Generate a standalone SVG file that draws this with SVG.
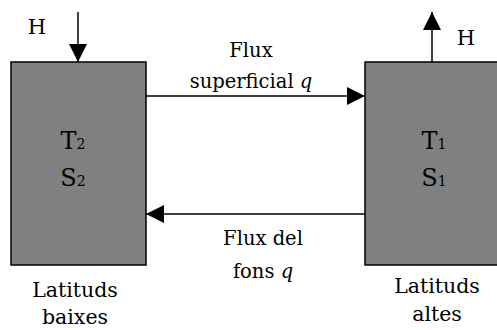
<svg xmlns="http://www.w3.org/2000/svg" width="497" height="330" viewBox="0 0 497 330">
<defs>
<marker id="ah" viewBox="0 0 10 10" refX="10" refY="5" markerWidth="18" markerHeight="18" markerUnits="userSpaceOnUse" orient="auto">
<path d="M0,0 L10,5 L0,10 z" fill="#000"/>
</marker>
<style>
.box{fill:#808080;stroke:#000;stroke-width:1.5}
text{font-family:'DejaVu Serif','Liberation Serif',serif;font-size:19.5px;fill:#000;text-anchor:middle}
.big{font-size:24px}
.sub{font-size:14px}
.lat{font-size:20.5px}
.h{font-size:21px}
.ln{stroke:#000;stroke-width:1.5;fill:none;marker-end:url(#ah)}
</style>
</defs>
<rect width="497" height="330" fill="#fff"/>
<g id="left-box">
<rect class="box" x="11" y="62" width="135" height="203"/>
<text class="big" x="73" y="149">T<tspan class="sub">2</tspan></text>
<text class="big" x="73" y="186">S<tspan class="sub">2</tspan></text>
</g>
<g id="right-box">
<rect class="box" x="365" y="62" width="140" height="203"/>
<text class="big" x="434" y="149">T<tspan class="sub">1</tspan></text>
<text class="big" x="434" y="186">S<tspan class="sub">1</tspan></text>
</g>
<g id="left-label">
<text class="lat" x="75" y="297">Latituds</text>
<text class="lat" x="75" y="324">baixes</text>
</g>
<g id="right-label">
<text class="lat" x="437" y="293">Latituds</text>
<text class="lat" x="437" y="321">altes</text>
</g>
<g id="heat-in">
<text class="h" x="37" y="34">H</text>
</g>
<g id="heat-out">
<text class="h" x="466" y="45">H</text>
</g>
<g id="connectors">
<line class="ln" x1="78" y1="12" x2="78" y2="62"/>
<line class="ln" x1="432" y1="62" x2="432" y2="12"/>
<line class="ln" x1="146" y1="96" x2="365" y2="96"/>
<line class="ln" x1="365" y1="214" x2="146" y2="214"/>
</g>
<g id="flux-labels">
<text x="251" y="57">Flux</text>
<text x="251" y="88">superficial <tspan font-style="italic">q</tspan></text>
<text x="263" y="245">Flux del</text>
<text x="263" y="278">fons <tspan font-style="italic">q</tspan></text>
</g>
</svg>
